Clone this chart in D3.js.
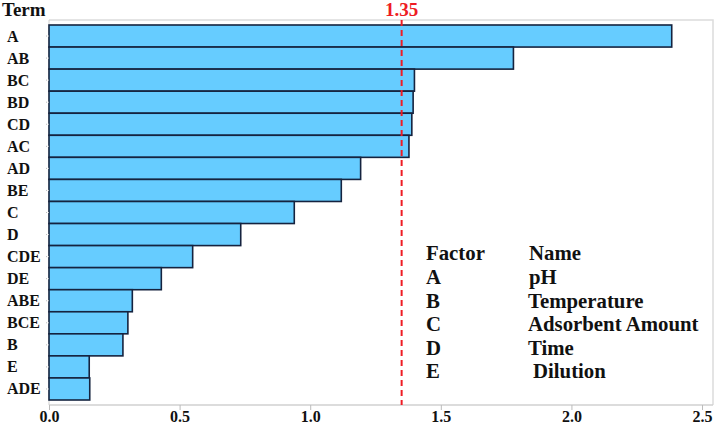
<!DOCTYPE html>
<html><head><meta charset="utf-8">
<script src="https://cdn.jsdelivr.net/npm/d3@7"></script>
<style>body{margin:0;background:#fff}svg{display:block}</style>
</head><body>
<svg id="c" width="715" height="426"></svg>
<script>
const terms = ["A","AB","BC","BD","CD","AC","AD","BE","C","D","CDE","DE","ABE","BCE","B","E","ADE"];
const values = [2.384,1.778,1.399,1.394,1.389,1.378,1.193,1.119,0.939,0.734,0.550,0.430,0.319,0.302,0.283,0.154,0.156];
const xTicks = [0,0.5,1.0,1.5,2.0,2.5];
const threshold = 1.35;
const factors = ["A","B","C","D","E"];
const names = ["pH","Temperature","Adsorbent Amount","Time","Dilution"];

const svg = d3.select("#c");
const font = "'Liberation Serif','Times New Roman',serif";
const L = 49, R = 713, T = 20, B = 405;
const x = d3.scaleLinear().domain([0, 2.542]).range([L, R]);
const y = d3.scaleBand().domain(terms).range([25, 400]).padding(0);

// frame
svg.append("path").attr("d", `M${L},${T}H${R}V${B}`).attr("fill","none").attr("stroke","#dcdcdc").attr("stroke-width",1.5);
svg.append("line").attr("x1",L).attr("x2",R).attr("y1",B).attr("y2",B).attr("stroke","#d0d0d0").attr("stroke-width",1.5);
svg.append("line").attr("x1",L).attr("x2",L).attr("y1",T).attr("y2",B).attr("stroke","#d0d0d0").attr("stroke-width",1);

// bars
svg.append("g").selectAll("rect").data(terms).join("rect")
  .attr("x", x(0)).attr("y", d => y(d))
  .attr("width", (d,i) => x(values[i]) - x(0))
  .attr("height", y.bandwidth())
  .attr("fill","#66ccff").attr("stroke","#15233f").attr("stroke-width",1.6);

// y axis
const ya = svg.append("g").attr("transform",`translate(${L},0)`)
  .call(d3.axisLeft(y).tickSize(4).tickPadding(0).tickFormat(""));
ya.select(".domain").remove();
ya.selectAll("line").attr("stroke","#bbb").attr("stroke-dasharray","1,1");
svg.append("g").selectAll("text").data(terms).join("text")
  .attr("x", 7).attr("y", d => y(d) + y.bandwidth()/2 + 5.5)
  .attr("font-family", font).attr("font-weight","bold").attr("font-size",16)
  .attr("fill","#111").text(d => d);

// x axis
const xa = svg.append("g").attr("transform",`translate(0,${B})`)
  .call(d3.axisBottom(x).tickValues(xTicks).tickSize(5).tickFormat(d3.format(".1f")));
xa.select(".domain").remove();
xa.selectAll("line").attr("stroke","#bbb");
xa.selectAll("text").attr("dy", null).attr("y", 17)
  .attr("font-family", font).attr("font-weight","bold").attr("font-size",16).attr("fill","#111");

// threshold
svg.append("line").attr("x1",x(threshold)).attr("x2",x(threshold)).attr("y1",T).attr("y2",B)
  .attr("stroke","#ee1c24").attr("stroke-width",2).attr("stroke-dasharray","6,4");
svg.append("text").attr("x", x(threshold)).attr("y", 16).attr("text-anchor","middle")
  .attr("font-family", font).attr("font-weight","bold").attr("font-size",19).attr("fill","#ee1c24")
  .text(d3.format(".2f")(threshold));

svg.append("text").attr("x", 2).attr("y", 16)
  .attr("font-family", font).attr("font-weight","bold").attr("font-size",19).attr("fill","#111").text("Term");

// legend
const lg = svg.append("g").attr("font-family", font).attr("font-weight","bold").attr("font-size",20.8).attr("fill","#111");
lg.append("text").attr("x",426).attr("y",260).text("Factor");
lg.append("text").attr("x",529).attr("y",260).text("Name");
const nameX = [529,528,528,528,533];
factors.forEach((f,i) => {
  const yy = 284 + i*23.5;
  lg.append("text").attr("x",426).attr("y",yy).text(f);
  lg.append("text").attr("x",nameX[i]).attr("y",yy).text(names[i]);
});
</script>
</body></html>
